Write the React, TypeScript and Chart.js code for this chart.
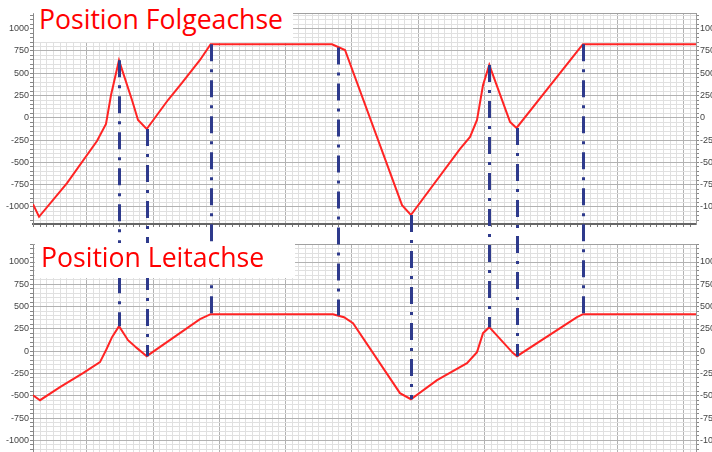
import React, { useEffect, useRef } from "react";
import { Chart, registerables } from "chart.js";

Chart.register(...registerables);

// shared time axis (major grid every 10 units, minor every 1)
const X_MIN = -8.1;
const X_MAX = 91.9;

// Position Folgeachse (follower)
const FOLGE_X = [-8.1, -7.19, -2.97, 1.55, 2.91, 3.67, 4.87, 6.83, 7.74, 9.05, 12.26, 14.37, 17.09, 18.7, 37.0, 38.96, 47.56, 48.9, 56.31, 57.82, 58.87, 59.78, 60.72, 63.85, 64.83, 74.4, 74.86, 91.9];
const FOLGE_Y = [-970, -1110, -733, -260, -69, 256, 645, 200, -24, -125, 200, 391, 649, 825, 825, 761, -979, -1090, -349, -214, -24, 368, 593, -46, -114, 784, 825, 825];

// Position Leitachse (master)
const LEIT_X = [-8.1, -7.04, -4.03, -0.56, 2.0, 2.91, 3.82, 4.87, 6.23, 7.59, 9.05, 17.09, 18.7, 37.15, 38.81, 40.17, 47.25, 48.9, 52.84, 57.36, 58.87, 59.78, 60.72, 64.3, 64.9, 73.95, 74.86, 91.9];
const LEIT_Y = [-495, -550, -404, -247, -123, 11, 157, 280, 123, 34, -56, 359, 415, 415, 381, 314, -471, -539, -325, -135, -11, 202, 269, -22, -56, 381, 415, 415];

// synchronisation markers (dash-dot verticals)
const SYNC_X = [4.87, 9.05, 18.7, 37.95, 48.9, 60.72, 64.83, 74.86];
const SYNC_FOLGE = [645, -125, 825, 790, -1090, 593, -114, 825];
const SYNC_LEIT = [280, -56, 415, 400, -539, 269, -56, 415];

const Y_TICK_LABELS = [-1000, -750, -500, -250, 0, 250, 500, 750, 1000];
const TOP_RANGE = [-1191, 1176];
const BOTTOM_RANGE = [-1243, 1202];

const TITLE_TOP = "Position Folgeachse";
const TITLE_BOTTOM = "Position Leitachse";

const MAJOR = "#b2b2b2";
const MINOR = "#e0e0e0";
const RED = "#ff2424";
const BLUE = "#2e3a8c";
const TOP_CANVAS_Y = 0;
const BOTTOM_CANVAS_Y = 236;

const tickFont = { size: 9, family: "'Liberation Sans', Arial, sans-serif" };

function yTicksBuilder(scale: any) {
  const t: any[] = [];
  for (let v = Math.ceil(scale.min / 50) * 50; v <= scale.max; v += 50) t.push({ value: v });
  scale.ticks = t;
}

function xTicksBuilder(scale: any) {
  const t: any[] = [];
  for (let v = Math.ceil(X_MIN); v <= Math.floor(X_MAX); v++) t.push({ value: v });
  scale.ticks = t;
}

const frameTop = {
  id: "frameTop",
  beforeDatasetsDraw(chart: any) {
    const { ctx, chartArea } = chart;
    ctx.save();
    ctx.strokeStyle = "#a0a0a0";
    ctx.lineWidth = 1;
    ctx.beginPath();
    ctx.moveTo(chartArea.left, Math.round(chartArea.top) + 0.5);
    ctx.lineTo(chartArea.right, Math.round(chartArea.top) + 0.5);
    ctx.stroke();
    ctx.restore();
  },
};

function makeConfig(xs: number[], ys: number[], range: number[], padTop: number, showXAxis: boolean): any {
  const labelCb = (v: any) => (Y_TICK_LABELS.includes(Number(v)) ? String(v) : "");
  return {
    type: "line",
    data: {
      datasets: [
        {
          data: xs.map((x, i) => ({ x, y: ys[i] })),
          borderColor: RED,
          borderWidth: 2,
          pointRadius: 0,
          tension: 0,
          fill: false,
        },
      ],
    },
    options: {
      responsive: false,
      animation: false,
      events: [],
      layout: { padding: { top: padTop, left: 0, right: 0, bottom: 0 } },
      plugins: { legend: { display: false }, tooltip: { enabled: false }, title: { display: false } },
      scales: {
        x: {
          type: "linear",
          min: X_MIN,
          max: X_MAX,
          afterBuildTicks: xTicksBuilder,
          afterFit: (s: any) => {
            s.height = showXAxis ? 12 : 10;
          },
          ticks: { display: false, autoSkip: false },
          grid: {
            color: (c: any) => (Math.round(c.tick.value) % 10 === 0 ? MAJOR : MINOR),
            lineWidth: 1,
            drawTicks: showXAxis,
            tickLength: 3,
            tickColor: "#777",
          },
          border: { display: showXAxis, color: "#666", width: 2 },
        },
        y: {
          type: "linear",
          position: "left",
          min: range[0],
          max: range[1],
          afterBuildTicks: yTicksBuilder,
          afterFit: (s: any) => {
            s.width = 33;
          },
          ticks: { autoSkip: false, font: tickFont, color: "#444", padding: 1, callback: labelCb },
          grid: {
            color: (c: any) => (Math.round(c.tick.value) % 250 === 0 ? MAJOR : MINOR),
            lineWidth: 1,
            tickLength: 3,
            tickColor: "#888",
          },
          border: { color: "#888" },
        },
        y2: {
          type: "linear",
          position: "right",
          min: range[0],
          max: range[1],
          afterBuildTicks: yTicksBuilder,
          afterFit: (s: any) => {
            s.width = 16;
          },
          ticks: { autoSkip: false, font: tickFont, color: "#444", padding: 1, callback: labelCb },
          grid: { drawOnChartArea: false, tickLength: 3, tickColor: "#888" },
          border: { color: "#999" },
        },
      },
    },
    plugins: [frameTop],
  };
}

export default function App() {
  const topRef = useRef<HTMLCanvasElement>(null);
  const botRef = useRef<HTMLCanvasElement>(null);
  const ovRef = useRef<HTMLCanvasElement>(null);

  useEffect(() => {
    const top = new Chart(topRef.current as HTMLCanvasElement, makeConfig(FOLGE_X, FOLGE_Y, TOP_RANGE, 13, true));
    const bottom = new Chart(botRef.current as HTMLCanvasElement, makeConfig(LEIT_X, LEIT_Y, BOTTOM_RANGE, 8, false));

    const ov = ovRef.current as HTMLCanvasElement;
    const ctx = ov.getContext("2d") as CanvasRenderingContext2D;
    ctx.clearRect(0, 0, ov.width, ov.height);
    ctx.save();
    ctx.strokeStyle = BLUE;
    ctx.lineWidth = 3;
    ctx.setLineDash([17, 8, 3, 8]);
    SYNC_X.forEach((xv, i) => {
      const x = Math.round((top.scales as any).x.getPixelForValue(xv)) + 0.5;
      const y1 = (top.scales as any).y.getPixelForValue(SYNC_FOLGE[i]) + TOP_CANVAS_Y;
      const y2 = (bottom.scales as any).y.getPixelForValue(SYNC_LEIT[i]) + BOTTOM_CANVAS_Y;
      ctx.beginPath();
      ctx.moveTo(x, y1);
      ctx.lineTo(x, y2);
      ctx.stroke();
    });
    ctx.restore();

    return () => {
      top.destroy();
      bottom.destroy();
    };
  }, []);

  const titleStyle: React.CSSProperties = {
    position: "absolute",
    background: "#fff",
    color: "#ff0000",
    fontFamily: "'Open Sans', 'Noto Sans', sans-serif",
    fontSize: 26.6,
    lineHeight: "26px",
    whiteSpace: "nowrap",
    boxSizing: "border-box",
  };

  return (
    <div style={{ position: "fixed", left: 0, top: 0, width: 712, height: 452, overflow: "hidden", background: "#fff" }}>
      <canvas ref={topRef} width={712} height={236} style={{ position: "absolute", left: 0, top: TOP_CANVAS_Y }} />
      <canvas ref={botRef} width={712} height={236} style={{ position: "absolute", left: 0, top: BOTTOM_CANVAS_Y }} />
      <canvas ref={ovRef} width={712} height={452} style={{ position: "absolute", left: 0, top: 0 }} />
      <div style={{ ...titleStyle, left: 34, top: 0, width: 259, height: 42, paddingLeft: 5, paddingTop: 6 }}>{TITLE_TOP}</div>
      <div style={{ ...titleStyle, left: 35, top: 243, width: 260, height: 35, paddingLeft: 6, paddingTop: 1 }}>{TITLE_BOTTOM}</div>
    </div>
  );
}
